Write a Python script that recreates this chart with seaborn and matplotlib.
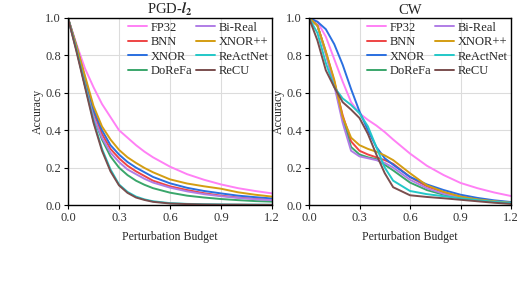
import pandas as pd
import matplotlib
matplotlib.use("Agg")
import matplotlib.pyplot as plt
import seaborn as sns

budgets = [0, 0.05, 0.1, 0.15, 0.2, 0.25, 0.3, 0.35, 0.4, 0.45, 0.5, 0.6, 0.7, 0.8, 0.9, 1.0, 1.1, 1.2]

methods = ["FP32", "BNN", "XNOR", "DoReFa", "Bi-Real", "XNOR++", "ReActNet", "ReCU"]
colors = ["#ff80f5", "#ee4444", "#2a6fe0", "#3aa66b", "#b07de6", "#d49d12", "#22c8c8", "#7a4e4e"]

# PGD-l2 accuracy
pgd_fp32 = [1.0, 0.86, 0.73, 0.63, 0.54, 0.47, 0.40, 0.36, 0.32, 0.285, 0.255, 0.205, 0.165, 0.135, 0.11, 0.09, 0.075, 0.062]
pgd_bnn = [1.0, 0.84, 0.67, 0.50, 0.38, 0.30, 0.25, 0.21, 0.18, 0.155, 0.13, 0.10, 0.08, 0.063, 0.05, 0.04, 0.033, 0.028]
pgd_xnor = [1.0, 0.85, 0.68, 0.51, 0.40, 0.32, 0.27, 0.23, 0.20, 0.175, 0.15, 0.116, 0.092, 0.075, 0.062, 0.05, 0.042, 0.035]
pgd_dorefa = [1.0, 0.83, 0.64, 0.47, 0.35, 0.26, 0.20, 0.16, 0.13, 0.108, 0.09, 0.066, 0.05, 0.04, 0.032, 0.026, 0.021, 0.018]
pgd_bireal = [1.0, 0.83, 0.64, 0.47, 0.36, 0.28, 0.23, 0.19, 0.165, 0.14, 0.12, 0.093, 0.073, 0.058, 0.047, 0.038, 0.031, 0.026]
pgd_xnorpp = [1.0, 0.85, 0.69, 0.53, 0.42, 0.35, 0.295, 0.255, 0.225, 0.198, 0.175, 0.137, 0.115, 0.10, 0.087, 0.068, 0.055, 0.045]
pgd_reactnet = [1.0, 0.83, 0.64, 0.45, 0.30, 0.19, 0.11, 0.07, 0.045, 0.03, 0.02, 0.01, 0.006, 0.004, 0.003, 0.002, 0.002, 0.001]
pgd_recu = [1.0, 0.82, 0.63, 0.44, 0.29, 0.18, 0.105, 0.065, 0.04, 0.027, 0.017, 0.008, 0.005, 0.003, 0.002, 0.002, 0.001, 0.001]

# CW accuracy
cw_fp32 = [1.0, 0.98, 0.90, 0.78, 0.66, 0.55, 0.49, 0.455, 0.425, 0.39, 0.35, 0.275, 0.21, 0.16, 0.118, 0.09, 0.067, 0.048]
cw_bnn = [1.0, 0.96, 0.82, 0.66, 0.48, 0.34, 0.29, 0.27, 0.255, 0.24, 0.22, 0.15, 0.10, 0.068, 0.045, 0.03, 0.02, 0.013]
cw_xnor = [1.0, 0.98, 0.94, 0.86, 0.75, 0.62, 0.50, 0.40, 0.31, 0.25, 0.215, 0.15, 0.11, 0.08, 0.055, 0.038, 0.025, 0.016]
cw_dorefa = [1.0, 0.96, 0.81, 0.65, 0.46, 0.31, 0.27, 0.255, 0.245, 0.215, 0.185, 0.12, 0.08, 0.055, 0.038, 0.026, 0.017, 0.011]
cw_bireal = [1.0, 0.96, 0.81, 0.64, 0.44, 0.29, 0.26, 0.25, 0.24, 0.225, 0.20, 0.135, 0.09, 0.06, 0.04, 0.027, 0.018, 0.011]
cw_xnorpp = [1.0, 0.96, 0.82, 0.67, 0.47, 0.36, 0.32, 0.30, 0.285, 0.265, 0.24, 0.17, 0.105, 0.07, 0.045, 0.03, 0.02, 0.012]
cw_reactnet = [1.0, 0.92, 0.76, 0.63, 0.57, 0.535, 0.49, 0.42, 0.31, 0.20, 0.13, 0.075, 0.058, 0.047, 0.036, 0.026, 0.017, 0.011]
cw_recu = [1.0, 0.88, 0.72, 0.63, 0.55, 0.51, 0.465, 0.38, 0.27, 0.17, 0.095, 0.052, 0.043, 0.036, 0.028, 0.02, 0.012, 0.006]

pgd = [pgd_fp32, pgd_bnn, pgd_xnor, pgd_dorefa, pgd_bireal, pgd_xnorpp, pgd_reactnet, pgd_recu]
cw = [cw_fp32, cw_bnn, cw_xnor, cw_dorefa, cw_bireal, cw_xnorpp, cw_reactnet, cw_recu]


def to_long(series):
    rows = []
    for name, vals in zip(methods, series):
        for b, v in zip(budgets, vals):
            rows.append({"Budget": b, "Accuracy": v, "Method": name})
    return pd.DataFrame(rows)


sns.set_style("whitegrid")
plt.rcParams["font.family"] = ["Liberation Serif", "DejaVu Serif"]
plt.rcParams["mathtext.fontset"] = "stix"

fig = plt.figure(figsize=(5.2, 2.82), dpi=100)
ax1 = fig.add_axes([68 / 520, 1 - 205 / 282, 204 / 520, 187 / 282])
ax2 = fig.add_axes([309 / 520, 1 - 205 / 282, 202 / 520, 187 / 282])

for ax, series, title in [(ax1, pgd, r"PGD-$\mathbfit{l}_\mathbf{2}$"), (ax2, cw, "CW")]:
    sns.lineplot(
        data=to_long(series),
        x="Budget",
        y="Accuracy",
        hue="Method",
        hue_order=methods,
        palette=colors,
        linewidth=1.4,
        ax=ax
    )
    ax.set_xlim(0, 1.2)
    ax.set_ylim(0, 1.0)
    ax.set_xticks([0, 0.3, 0.6, 0.9, 1.2])
    ax.set_yticks([0, 0.2, 0.4, 0.6, 0.8, 1.0])
    ax.set_xticklabels(["0.0", "0.3", "0.6", "0.9", "1.2"])
    ax.set_yticklabels(["0.0", "0.2", "0.4", "0.6", "0.8", "1.0"])
    ax.tick_params(labelsize=9, length=3, width=0.8, color="black", pad=2,
                   bottom=True, left=True, labelcolor="#333333")
    ax.grid(color="#dcdcdc", linewidth=0.8)
    for s in ax.spines.values():
        s.set_color("black")
        s.set_linewidth(1.0)
    ax.set_title(title, fontsize=10.5, pad=3)
    ax.set_xlabel("Perturbation Budget", fontsize=8.5, labelpad=5)
    ax.set_ylabel("Accuracy", fontsize=8.5, labelpad=1)
    ax.legend(
        ncol=2,
        loc="upper right",
        frameon=False,
        fontsize=9,
        handlelength=1.5,
        handletextpad=0.3,
        columnspacing=0.3,
        labelspacing=0.2,
        borderaxespad=0.1,
        borderpad=0.2
    )

fig.savefig("out.png", dpi=100)
